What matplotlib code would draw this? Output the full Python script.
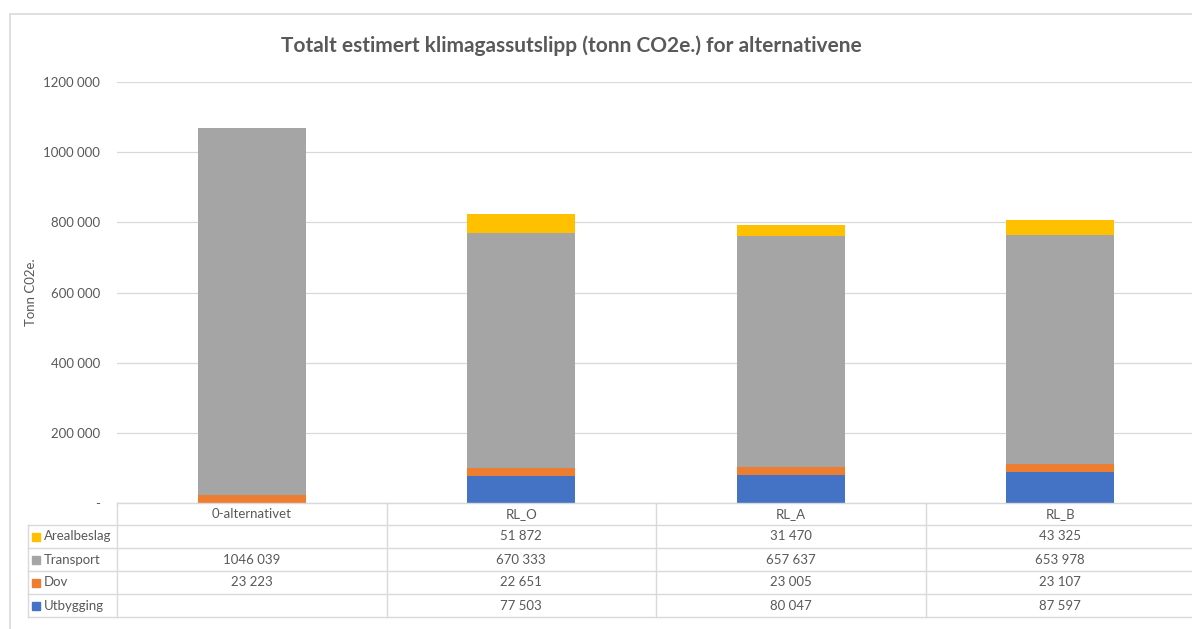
import matplotlib.pyplot as plt
import matplotlib.transforms as mtransforms
from matplotlib.lines import Line2D
from matplotlib.patches import Rectangle
from matplotlib.ticker import FuncFormatter
import numpy as np

plt.rcParams['font.family'] = ['Lato', 'DejaVu Sans']

# data (tonn CO2e.)
categories = ['0-alternativet', 'RL_O', 'RL_A', 'RL_B']
utbygging = [None, 77503, 80047, 87597]
dov = [23223, 22651, 23005, 23107]
transport = [1046039, 670333, 657637, 653978]
arealbeslag = [None, 51872, 31470, 43325]
yticks = [0, 200000, 400000, 600000, 800000, 1000000, 1200000]

series = [('Utbygging', utbygging, '#4472C4'),
          ('Dov', dov, '#ED7D31'),
          ('Transport', transport, '#A5A5A5'),
          ('Arealbeslag', arealbeslag, '#FFC000')]

TXT = '#595959'
GRID = '#D9D9D9'
W, H = 1192, 629


def fx(px):
    return px / W


def fy(py):
    return 1 - py / H


def fmt(v):
    # "# ##0" style: only the last thousands group is separated
    if v is None:
        return ''
    v = int(round(v))
    if v == 0:
        return '-'
    if v < 1000:
        return str(v)
    return f'{v // 1000} {v % 1000:03d}'


fig = plt.figure(figsize=(W / 100, H / 100), dpi=100)

# outer chart frame
fig.patches.append(Rectangle((fx(9.5), fy(700)), 2, fy(13.5) - fy(700),
                             transform=fig.transFigure, fill=False,
                             edgecolor=GRID, lw=1.2))

ax = fig.add_axes([fx(117), fy(503), fx(1192) - fx(117), fy(82) - fy(503)])
x = np.arange(len(categories))
bottom = np.zeros(len(categories))
for name, vals, color in series:
    v = np.array([np.nan if a is None else a for a in vals], dtype=float)
    ax.bar(x, v, 0.4, bottom=bottom, color=color, zorder=3)
    bottom += np.nan_to_num(v)

ax.set_xlim(-0.5, -0.5 + 1075 / 269.5)
ax.set_ylim(0, 1200000)
ax.set_yticks(yticks)
ax.yaxis.set_major_formatter(FuncFormatter(lambda v, p: fmt(v)))
ax.set_xticks([])
ax.tick_params(axis='y', length=0, pad=12, labelsize=9.5, labelcolor=TXT)
ax.grid(axis='y', color=GRID, lw=0.9, zorder=0)
for s in ax.spines.values():
    s.set_visible(False)

fig.text(fx(571), fy(46), 'Totalt estimert klimagassutslipp (tonn CO2e.) for alternativene',
         ha='center', va='center', fontsize=15, fontweight='bold', color=TXT)
fig.text(fx(31), fy(292), 'Tonn C02e.', rotation=90, ha='center', va='center',
         fontsize=9.5, color=TXT)

# data table under the bars
tr = mtransforms.blended_transform_factory(ax.transData, fig.transFigure)
row_edges = [503, 525, 548, 571, 594, 617]
for i, py in enumerate(row_edges):
    x0 = 117 if i == 0 else 28
    fig.add_artist(Line2D([fx(x0), fx(1192)], [fy(py), fy(py)],
                          transform=fig.transFigure, color=GRID, lw=1))
for px in [28, 117]:
    y0 = 503 if px == 117 else 525
    fig.add_artist(Line2D([fx(px), fx(px)], [fy(y0), fy(617)],
                          transform=fig.transFigure, color=GRID, lw=1))
for k in range(1, len(categories)):
    fig.add_artist(Line2D([k - 0.5, k - 0.5], [fy(503), fy(617)],
                          transform=tr, color=GRID, lw=1))

for k, cat in enumerate(categories):
    fig.text(k, fy(514), cat, transform=tr, ha='center', va='center',
             fontsize=9.5, color=TXT)

for r, (name, vals, color) in enumerate(series[::-1]):
    yc = (row_edges[r + 1] + row_edges[r + 2]) / 2
    fig.patches.append(Rectangle((fx(32), fy(yc + 4)), fx(8), fy(yc - 4) - fy(yc + 4),
                                 transform=fig.transFigure, color=color))
    fig.text(fx(44), fy(yc), name, ha='left', va='center', fontsize=9.5, color=TXT)
    for k, v in enumerate(vals):
        fig.text(k, fy(yc), fmt(v), transform=tr, ha='center', va='center',
                 fontsize=9.5, color=TXT)

fig.savefig('out.png', dpi=100)
